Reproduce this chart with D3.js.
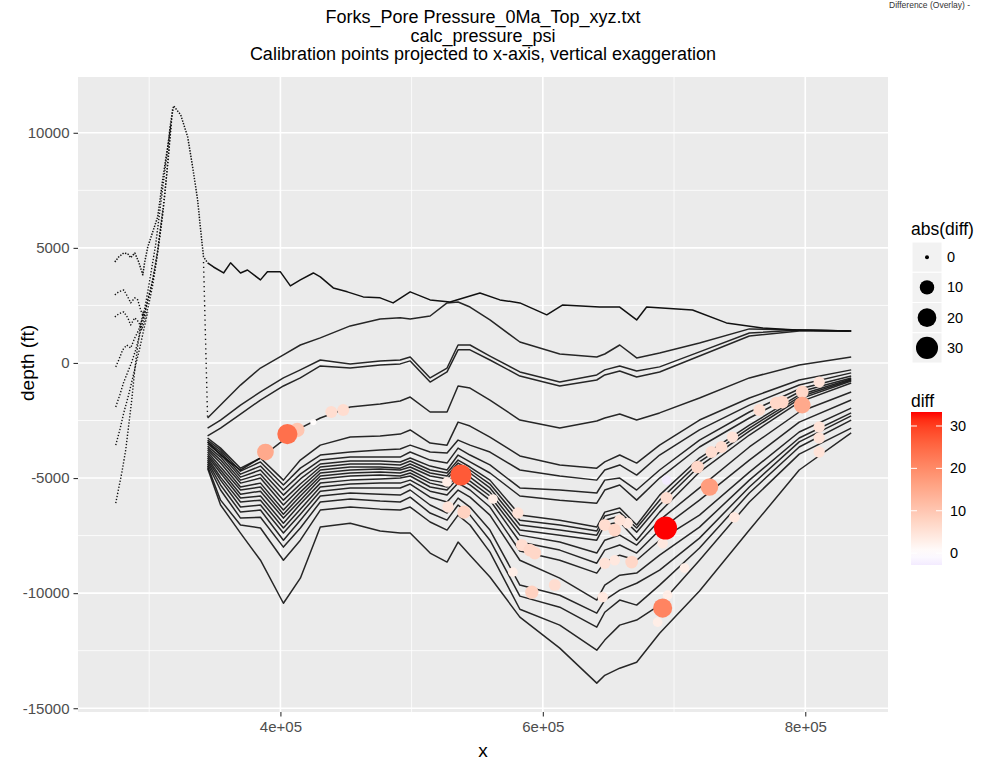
<!DOCTYPE html>
<html>
<head>
<meta charset="utf-8">
<script src="https://cdn.jsdelivr.net/npm/d3@7"></script>
<style>
  body { margin: 0; background: #ffffff; }
  svg { display: block; }
  text { font-family: "Liberation Sans", Arial, Helvetica, sans-serif; }
</style>
</head>
<body>
<svg id="chart" width="986" height="761"></svg>
<script>
// ---------------- titles ----------------
const titleLines = [
  "Forks_Pore Pressure_0Ma_Top_xyz.txt",
  "calc_pressure_psi",
  "Calibration points projected to x-axis, vertical exaggeration"
];
const cornerNote = "Difference (Overlay) -";

// ---------------- horizon traces (x in map units, depth in ft) ----------------
// top surface, including the uplift west of the basin edge
const topSurface = [
  [273800, 4390], [276800, 4610], [280600, 4780], [283700, 4740], [285900, 4570],
  [289000, 4780], [292000, 4390], [295100, 3830], [296600, 4390], [298900, 5040],
  [306500, 6350], [311000, 8260], [314100, 9390], [316400, 10440], [318600, 11170],
  [324000, 10780], [329300, 9830], [333100, 8520], [336900, 7090], [339200, 5780],
  [341400, 4610], [344500, 4350], [349000, 4170], [356700, 3910], [362000, 4350],
  [369600, 3910], [374900, 4040], [384800, 3610], [390100, 3960], [400000, 3960],
  [407600, 3350], [415200, 3610], [425100, 3910], [430400, 3740], [440300, 3260],
  [451000, 3090], [463100, 2870], [476000, 2830], [485900, 2610], [498900, 3090],
  [514100, 2740], [529300, 2650], [552100, 3040], [567300, 2740], [582500, 2610],
  [603000, 2090], [615200, 2520], [643300, 2430], [658600, 2430], [671500, 1870],
  [679100, 2430], [714100, 2300], [739900, 1740], [767300, 1520], [793200, 1430],
  [833500, 1390]
];

// western limbs of the deeper horizons, climbing onto the uplift
const west1 = [[273800, 2960], [276800, 3090], [280600, 3170], [283700, 2870], [285900, 2610], [289000, 2830], [291300, 2740], [293500, 2300], [295800, 1960], [298100, 2520], [301100, 3170], [304200, 4040], [307200, 5130], [310300, 6440], [313300, 8170], [315600, 9700], [317900, 11090]];
const west2 = [[273800, 2000], [276800, 2130], [280600, 2220], [283700, 1960], [285900, 1650], [289000, 1960], [292000, 1780], [294300, 1430], [296600, 1870], [299600, 2520], [302700, 3390], [305700, 4480], [308700, 5780], [311800, 7300], [314800, 9040], [317100, 10570]];
const west3 = [[274500, -170], [276800, 130], [279800, 570], [282900, 780], [285900, 650], [289000, 1090], [292000, 1430], [295100, 1960], [298100, 2830], [301100, 3830], [304900, 5130], [308700, 6870], [312500, 8610], [316400, 10350]];
const west4 = [[274500, -1910], [277600, -1390], [280600, -830], [283700, -390], [286700, 40], [289700, 570], [292800, 1220], [295800, 1960], [298900, 2740], [302700, 3610], [306500, 4910], [310300, 6650]];
const west5 = [[274500, -3570], [277600, -2910], [280600, -2170], [283700, -1520], [286700, -830], [289700, -90], [292800, 650], [295800, 1430], [298900, 2220]];
const west6 = [[274500, -6090], [276800, -5430], [279100, -4780], [282100, -3780], [284400, -2700], [286700, -1610], [289000, -300], [291300, 780], [293500, 1650], [295800, 2300]];
// drop from the surface down the basin edge
const edgeDrop = [[341400, 4390], [344500, -2390]];

// basin horizons, sampled on a shared set of x positions
const gridX = [344500, 354400, 369600, 384800, 402300, 415200, 430400, 453200, 476000, 491300, 498900, 514100, 527000, 535400, 544500, 559700, 582500, 612900, 641100, 647200, 658600, 671500, 689000, 719400, 757400, 795400, 835000];

const h02 = [-2390, -1830, -960, -220, 350, 780, 1090, 1610, 1910, 1960, 1910, 2040, 2610, 2650, 2430, 1870, 910, 390, 260, 390, 780, 220, 430, 870, 1480, 1430, 1390];
const h03 = [-2830, -2480, -1830, -1260, -650, -300, 130, -40, 90, 130, 260, -650, -220, 780, 780, 300, -390, -830, -520, -300, -130, -350, -170, 480, 1300, 1430, 1390];
const h04 = [-3170, -2830, -2220, -1610, -1000, -650, -130, -220, -90, -40, 90, -830, -390, 570, 570, 130, -570, -1000, -740, -520, -350, -610, -390, 300, 1170, 1390, 1390];
const h05 = [-3430, -4000, -4650, -4130, -3350, -2830, -2390, -1910, -1780, -1650, -1480, -2130, -2130, -1000, -1090, -1610, -2480, -2830, -2520, -2390, -2220, -2480, -2170, -1520, -650, -90, 260];
const h06 = [-3260, -3700, -4570, -4130, -5090, -4220, -3570, -3220, -3170, -3090, -2910, -3480, -3570, -2570, -2740, -3220, -4040, -4430, -4570, -4300, -4000, -4350, -3570, -2480, -1520, -740, -300];
const h07 = [-3350, -3780, -4700, -4300, -5300, -4570, -4000, -3870, -3780, -3740, -3570, -3870, -3910, -3350, -3570, -3870, -4650, -4910, -5090, -4650, -4430, -4870, -4000, -2910, -1830, -960, -430];
const h08 = [-3430, -3870, -4830, -4480, -5520, -4830, -4220, -4090, -4090, -4090, -3870, -4220, -4350, -3700, -4000, -4430, -5430, -5520, -5650, -5090, -5000, -5520, -4650, -3350, -2130, -1130, -570];
const h09 = [-3520, -3960, -4960, -4650, -5740, -5040, -4390, -4260, -4260, -4300, -4130, -4480, -4650, -4000, -4300, -4780, -5780, -5960, -6090, -5520, -5300, -5960, -5000, -3650, -2390, -1260, -650];
const h10 = [-3610, -4090, -5090, -4830, -5960, -5260, -4520, -4390, -4390, -4430, -4260, -4650, -4780, -4220, -4520, -5090, -6610, -6830, -7130, -6480, -6300, -7040, -5740, -4130, -2700, -1390, -700];
const h11 = [-3700, -4220, -5220, -5000, -6170, -5430, -4650, -4520, -4520, -4570, -4390, -4780, -4910, -4350, -4650, -5260, -6830, -7040, -7300, -6650, -6480, -7170, -5960, -4300, -2830, -1480, -740];
const h12 = [-3780, -4350, -5390, -5220, -6390, -5610, -4780, -4650, -4610, -4650, -4520, -4910, -5040, -4480, -4780, -5430, -7040, -7260, -7480, -6830, -6650, -7350, -6170, -4480, -2960, -1570, -780];
const h13 = [-3870, -4520, -5520, -5390, -6570, -5780, -4910, -4780, -4740, -4780, -4650, -5090, -5220, -4650, -4960, -5610, -7260, -7480, -7700, -7040, -6910, -7700, -6480, -4740, -3130, -1700, -870];
const h14 = [-3960, -4650, -5700, -5570, -6740, -5960, -5040, -4910, -4870, -4910, -4780, -5220, -5390, -4830, -5130, -5780, -7480, -7780, -8260, -7700, -7480, -7910, -6830, -5430, -3650, -2130, -1260];
const h15 = [-4040, -4780, -5870, -5780, -6960, -6130, -5220, -5090, -5040, -5000, -4910, -5390, -5520, -5000, -5300, -5960, -7780, -8130, -8700, -8130, -7910, -8260, -7260, -5960, -4220, -2570, -1610];
const h16 = [-4130, -4960, -6040, -5960, -7170, -6350, -5390, -5260, -5220, -5220, -5090, -5570, -5740, -5220, -5520, -6260, -8170, -8570, -9130, -8650, -8350, -8570, -7700, -6610, -4740, -3000, -1960];
const h17 = [-4220, -5090, -6260, -6170, -7390, -6570, -5570, -5430, -5430, -5430, -5260, -5830, -6040, -5520, -5830, -6610, -8570, -9350, -10300, -9650, -9220, -9130, -8350, -7130, -5090, -3260, -2170];
const h18 = [-4300, -5300, -6480, -6390, -7700, -6830, -5780, -5650, -5700, -5740, -5520, -6170, -6520, -5870, -6260, -7260, -9650, -10090, -10870, -10300, -9870, -9570, -9000, -7610, -5390, -3430, -2300];
const h19 = [-4390, -5520, -6740, -6700, -8000, -7170, -6040, -5910, -6000, -6040, -5830, -6520, -6830, -6170, -6610, -7700, -10130, -10610, -11480, -10830, -10300, -10520, -9650, -8040, -5650, -3650, -2480];
const h20 = [-4480, -5960, -7040, -7170, -8570, -7700, -6390, -6260, -6350, -6390, -6260, -6910, -7260, -6610, -7040, -8220, -10700, -11390, -12480, -12040, -11390, -11170, -10520, -8570, -6040, -3960, -2830];
const h21 = [-4570, -6170, -7390, -8570, -10440, -9350, -7130, -6960, -7300, -7390, -7390, -8260, -8650, -7780, -8350, -9300, -11040, -12390, -13910, -13570, -13260, -13000, -11740, -9910, -7260, -4650, -3040];

// ---------------- calibration points ----------------
const calX = [388600, 405300, 412900, 425100, 438800, 447900, 537600, 527000, 527800, 539900, 562000, 581000, 584000, 590100, 593900, 577200, 591600, 609100, 645600, 647200, 654800, 658600, 664600, 647200, 654800, 667700, 694300, 694300, 693500, 691300, 708000, 695100, 691300, 687500, 717900, 727000, 728500, 736100, 744500, 746000, 765000, 777900, 782500, 797700, 797700, 810600, 810600, 810600, 810600];
const calDepth = [-3870, -3090, -2910, -2570, -2130, -2040, -4870, -5170, -6260, -6480, -5910, -6520, -7910, -8130, -8260, -9090, -9960, -9650, -10170, -7040, -7260, -6830, -6960, -8700, -8570, -8650, -5090, -5870, -7170, -7830, -8910, -10090, -10650, -11260, -4520, -5390, -3870, -3650, -3220, -6700, -2040, -1740, -1700, -1260, -1830, -830, -2780, -3260, -3870];
const calDiff = [15, 24, 10, 0.5, 6, 6, 27, 3, 5, 8, 3, 5, 6, 7, 7, 3, 8, 6, 4, 6, 7, 5, 4, 5, 4, 7, -2.8, 6, 33.3, 4, 3, 3, 21, 3, 7, 17, 6, 6, 5, 4, 6, 7, 7, 7, 15, 5, 5, 5, 5];

// ---------------- axis breaks ----------------
const yBreaks = [-15000, -10000, -5000, 0, 5000, 10000];
const yMinor = [-12500, -7500, -2500, 2500, 7500];
const xBreaks = [400000, 600000, 800000];
const xBreakLabels = ["4e+05", "6e+05", "8e+05"];
const xMinor = [300000, 500000, 700000];
const sizeBreaks = [0, 10, 20, 30];
const colorBreaks = [0, 10, 20, 30];

// ---------------- assemble ----------------
const basinHorizons = [h02, h03, h04, h05, h06, h07, h08, h09, h10, h11, h12, h13, h14, h15, h16, h17, h18, h19, h20, h21]
  .map(depths => gridX.map((gx, i) => [gx, depths[i]]));
const westLimbs = [west1, west2, west3, west4, west5, west6];
const calPoints = calX.map((cx, i) => ({ x: cx, depth: calDepth[i], diff: calDiff[i] }));

const allXY = [...topSurface, ...westLimbs.flat(), ...basinHorizons.flat(), ...calPoints.map(p => [p.x, p.depth])];
const xExt = d3.extent(allXY, d => d[0]);
const yExt = d3.extent(allXY, d => d[1]);
const xPad = (xExt[1] - xExt[0]) * 0.05;
const yPad = (yExt[1] - yExt[0]) * 0.05;

const panel = { left: 78, right: 888, top: 77, bottom: 712 };
const x = d3.scaleLinear().domain([xExt[0] - xPad, xExt[1] + xPad]).range([panel.left, panel.right]);
const y = d3.scaleLinear().domain([yExt[0] - yPad, yExt[1] + yPad]).range([panel.bottom, panel.top]);

const maxAbs = d3.max(calDiff, d => Math.abs(d));
const color = d3.scaleLinear().domain([-maxAbs, 0, maxAbs]).range(["blue", "white", "red"]).interpolate(d3.interpolateLab);
const radius = d3.scaleSqrt().domain([0, maxAbs]).range([2, 11.5]);

const svg = d3.select("#chart");

// panel background and grid
svg.append("rect").attr("x", panel.left).attr("y", panel.top)
  .attr("width", panel.right - panel.left).attr("height", panel.bottom - panel.top)
  .attr("fill", "#EBEBEB");

const grid = svg.append("g");
grid.selectAll(".vminor").data(xMinor).join("line")
  .attr("x1", d => x(d)).attr("x2", d => x(d)).attr("y1", panel.top).attr("y2", panel.bottom)
  .attr("stroke", "#ffffff").attr("stroke-width", 0.8);
grid.selectAll(".hminor").data(yMinor).join("line")
  .attr("y1", d => y(d)).attr("y2", d => y(d)).attr("x1", panel.left).attr("x2", panel.right)
  .attr("stroke", "#ffffff").attr("stroke-width", 0.8);
grid.selectAll(".vmajor").data(xBreaks).join("line")
  .attr("x1", d => x(d)).attr("x2", d => x(d)).attr("y1", panel.top).attr("y2", panel.bottom)
  .attr("stroke", "#ffffff").attr("stroke-width", 1.6);
grid.selectAll(".hmajor").data(yBreaks).join("line")
  .attr("y1", d => y(d)).attr("y2", d => y(d)).attr("x1", panel.left).attr("x2", panel.right)
  .attr("stroke", "#ffffff").attr("stroke-width", 1.6);

// horizon traces
const line = d3.line().x(d => x(d[0])).y(d => y(d[1]));
const traces = svg.append("g").attr("fill", "none").attr("stroke-linejoin", "round");

const westEnd = edgeDrop[1][0];
traces.append("path").datum(topSurface.filter(d => d[0] <= westEnd))
  .attr("d", line).attr("stroke", "#111").attr("stroke-width", 1.5).attr("stroke-dasharray", "1.4 1.4");
traces.append("path").datum(topSurface.filter(d => d[0] >= westEnd))
  .attr("d", line).attr("stroke", "#111").attr("stroke-width", 1.5);
traces.selectAll(".west").data(westLimbs).join("path")
  .attr("d", line).attr("stroke", "#111").attr("stroke-width", 1.4).attr("stroke-dasharray", "1.3 1.8");
traces.append("path").datum(edgeDrop)
  .attr("d", line).attr("stroke", "#111").attr("stroke-width", 1.4).attr("stroke-dasharray", "1.3 3.5");
traces.selectAll(".basin").data(basinHorizons).join("path")
  .attr("d", line).attr("stroke", "#111").attr("stroke-width", 1.5).attr("stroke-opacity", 0.9);

// calibration points
svg.append("g").selectAll("circle")
  .data(calPoints.slice().sort((a, b) => Math.abs(a.diff) - Math.abs(b.diff)))
  .join("circle")
  .attr("cx", d => x(d.x)).attr("cy", d => y(d.depth))
  .attr("r", d => radius(Math.abs(d.diff)))
  .attr("fill", d => color(d.diff));

// axes
const tickColor = "#333333";
const labelColor = "#4D4D4D";
const yAxis = svg.append("g").attr("transform", `translate(${panel.left},0)`)
  .call(d3.axisLeft(y).tickValues(yBreaks).tickSize(4.5).tickPadding(4).tickFormat(d => String(d)));
const xAxis = svg.append("g").attr("transform", `translate(0,${panel.bottom})`)
  .call(d3.axisBottom(x).tickValues(xBreaks).tickSize(4.5).tickPadding(5).tickFormat((d, i) => xBreakLabels[i]));
[yAxis, xAxis].forEach(g => {
  g.select(".domain").remove();
  g.selectAll(".tick line").attr("stroke", tickColor).attr("stroke-width", 1.1);
  g.selectAll(".tick text").attr("fill", labelColor).style("font-size", "15px")
    .style("font-family", '"Liberation Sans", Arial, sans-serif');
});

// titles
svg.append("g").selectAll("text").data(titleLines).join("text")
  .attr("x", (panel.left + panel.right) / 2)
  .attr("y", (d, i) => 23 + i * 18.5)
  .attr("text-anchor", "middle").attr("fill", "#000").style("font-size", "18px")
  .text(d => d);

svg.append("text").attr("x", 889).attr("y", 8).attr("fill", "#333").style("font-size", "8.5px").text(cornerNote);

svg.append("text").attr("x", (panel.left + panel.right) / 2).attr("y", 757)
  .attr("text-anchor", "middle").attr("fill", "#000").style("font-size", "19px").text("x");
svg.append("text").attr("transform", `translate(34,${y(0)}) rotate(-90)`)
  .attr("text-anchor", "middle").attr("fill", "#000").style("font-size", "19px").text("depth (ft)");

// size legend
const legX = 912, keyW = 30, keyH = 30.25, keyTop = 242;
const sizeLeg = svg.append("g");
sizeLeg.append("text").attr("x", legX - 1).attr("y", 235).attr("fill", "#000").style("font-size", "17.5px").text("abs(diff)");
sizeBreaks.forEach((v, i) => {
  const cy = keyTop + keyH * i + keyH / 2;
  sizeLeg.append("rect").attr("x", legX).attr("y", keyTop + keyH * i).attr("width", keyW).attr("height", keyH)
    .attr("fill", "#F2F2F2").attr("stroke", "#ffffff").attr("stroke-width", 1);
  sizeLeg.append("circle").attr("cx", legX + keyW / 2).attr("cy", cy).attr("r", radius(v)).attr("fill", "#000");
  sizeLeg.append("text").attr("x", legX + keyW + 5).attr("y", cy + 5).attr("fill", "#000").style("font-size", "14.5px").text(v);
});

// colour bar legend
const diffExt = d3.extent(calDiff);
const barTop = 412, barBottom = 565, barX = 911, barW = 31;
const barScale = d3.scaleLinear().domain(diffExt).range([barBottom, barTop]);
const defs = svg.append("defs");
const grad = defs.append("linearGradient").attr("id", "diffbar").attr("x1", 0).attr("y1", 1).attr("x2", 0).attr("y2", 0);
d3.range(0, 1.0001, 0.05).forEach(t => {
  grad.append("stop").attr("offset", t).attr("stop-color", color(diffExt[0] + t * (diffExt[1] - diffExt[0])));
});
const colLeg = svg.append("g");
colLeg.append("text").attr("x", barX).attr("y", 407).attr("fill", "#000").style("font-size", "17.5px").text("diff");
colLeg.append("rect").attr("x", barX).attr("y", barTop).attr("width", barW).attr("height", barBottom - barTop).attr("fill", "url(#diffbar)");
colorBreaks.forEach(v => {
  const ty = barScale(v);
  colLeg.append("line").attr("x1", barX).attr("x2", barX + 6).attr("y1", ty).attr("y2", ty).attr("stroke", "#fff").attr("stroke-width", 1);
  colLeg.append("line").attr("x1", barX + barW - 6).attr("x2", barX + barW).attr("y1", ty).attr("y2", ty).attr("stroke", "#fff").attr("stroke-width", 1);
  colLeg.append("text").attr("x", barX + barW + 8).attr("y", ty + 5).attr("fill", "#000").style("font-size", "14.5px").text(v);
});
</script>
</body>
</html>
